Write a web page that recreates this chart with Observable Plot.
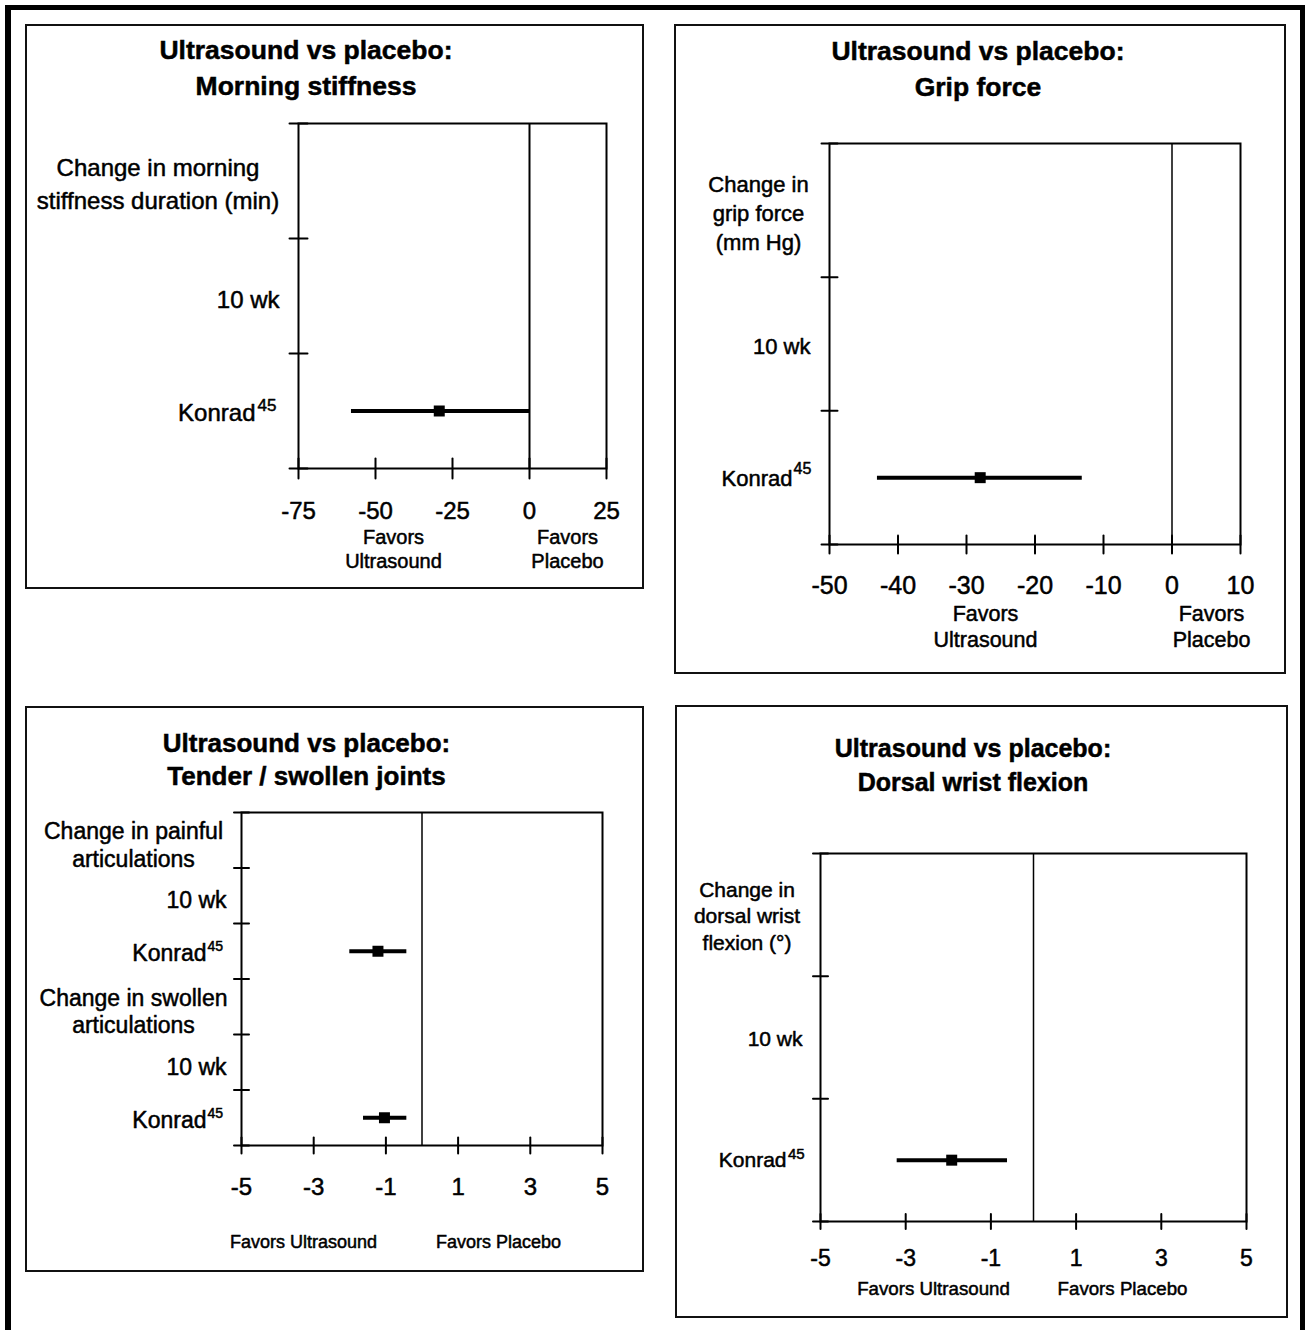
<!DOCTYPE html>
<html>
<head>
<meta charset="utf-8">
<script src="https://cdn.jsdelivr.net/npm/d3@7"></script>
<script src="https://cdn.jsdelivr.net/npm/@observablehq/plot@0.6"></script>
<style>
  html, body { margin: 0; padding: 0; background: #fff; }
  #page { position: relative; width: 1305px; height: 1330px; overflow: hidden; background: #fff;
          font-family: "Liberation Sans", Arial, Helvetica, sans-serif; color: #000; }
  .outer { position: absolute; left: 5px; top: 5px; width: 1300px; height: 1400px; box-sizing: border-box;
           border: 5px solid #000; border-left-width: 6px; }
  .box { position: absolute; box-sizing: border-box; border: 2px solid #111; }
  .tline { position: absolute; white-space: nowrap; font-weight: bold; transform: translateX(-50%);
           -webkit-text-stroke: 0.5px #000; }
  svg { position: absolute; }
</style>
</head>
<body>
<div id="page"><div class="outer"></div></div>
<script>
// ---------------- data ----------------
const titles = [
  ["Ultrasound vs placebo:", "Morning stiffness"],
  ["Ultrasound vs placebo:", "Grip force"],
  ["Ultrasound vs placebo:", "Tender / swollen joints"],
  ["Ultrasound vs placebo:", "Dorsal wrist flexion"]
];

const stiffnessRows = [
  {kind: "outcome", label: "Change in morning\nstiffness duration (min)"},
  {kind: "time", label: "10 wk"},
  {kind: "study", label: "Konrad", ref: "45"}
];
const stiffnessTicks = [-75, -50, -25, 0, 25];
const stiffnessEffects = [{row: 2, mean: -29.3, lower: -57.8, upper: 0}];
const stiffnessFavors = ["Favors\nUltrasound", "Favors\nPlacebo"];

const gripRows = [
  {kind: "outcome", label: "Change in\ngrip force\n(mm Hg)"},
  {kind: "time", label: "10 wk"},
  {kind: "study", label: "Konrad", ref: "45"}
];
const gripTicks = [-50, -40, -30, -20, -10, 0, 10];
const gripEffects = [{row: 2, mean: -28.0, lower: -43.0, upper: -13.1}];
const gripFavors = ["Favors\nUltrasound", "Favors\nPlacebo"];

const jointRows = [
  {kind: "outcome", label: "Change in painful\narticulations"},
  {kind: "time", label: "10 wk"},
  {kind: "study", label: "Konrad", ref: "45"},
  {kind: "outcome", label: "Change in swollen\narticulations"},
  {kind: "time", label: "10 wk"},
  {kind: "study", label: "Konrad", ref: "45"}
];
const jointTicks = [-5, -3, -1, 1, 3, 5];
const jointEffects = [
  {row: 2, mean: -1.22, lower: -2.0, upper: -0.42},
  {row: 5, mean: -1.04, lower: -1.62, upper: -0.42}
];
const jointFavors = ["Favors Ultrasound", "Favors Placebo"];

const flexionRows = [
  {kind: "outcome", label: "Change in\ndorsal wrist\nflexion (°)"},
  {kind: "time", label: "10 wk"},
  {kind: "study", label: "Konrad", ref: "45"}
];
const flexionTicks = [-5, -3, -1, 1, 3, 5];
const flexionEffects = [{row: 2, mean: -1.92, lower: -3.2, upper: -0.61}];
const flexionFavors = ["Favors Ultrasound", "Favors Placebo"];

// ---------------- layout ----------------
const layouts = [
  {box: {x0: 25, y0: 24, x1: 644, y1: 589}, frame: {l: 298, r: 606, t: 123, b: 468},
   titleX: 306, titleBase: [59, 95], titleFs: 26.5,
   rowFs: 24, outcomeDx: -140.5, outcomeDy: 1, outcomeLh: 1.375,
   timeDx: -19, timeDy: 4, studyDx: -43, studyDy: 2.5, supDx: -41, supDy: -8, supFs: 17,
   tickFs: 24, tickDy: 43, xTick: 20, yTick: 18, zeroW: 2,
   favFs: 20, favDy: 80, favLh: 1.2, favDx: [95, 269]},
  {box: {x0: 674, y0: 24, x1: 1286, y1: 674}, frame: {l: 829, r: 1240, t: 143, b: 544},
   titleX: 978, titleBase: [60, 96], titleFs: 26.5,
   rowFs: 22, outcomeDx: -71, outcomeDy: 1, outcomeLh: 1.32,
   timeDx: -19, timeDy: 2.5, studyDx: -37, studyDy: 1.5, supDx: -36, supDy: -10, supFs: 16,
   tickFs: 25, tickDy: 41, xTick: 18, yTick: 16, zeroW: 1.5,
   favFs: 21.5, favDy: 81, favLh: 1.21, favDx: [156, 382]},
  {box: {x0: 25, y0: 706, x1: 644, y1: 1272}, frame: {l: 241, r: 602, t: 812, b: 1145},
   titleX: 306.5, titleBase: [752, 785], titleFs: 26,
   rowFs: 23, outcomeDx: -108, outcomeDy: 4, outcomeLh: 1.2,
   timeDx: -15, timeDy: 5, studyDx: -35, studyDy: 2.5, supDx: -34, supDy: -7, supFs: 14,
   tickFs: 24, tickDy: 42, xTick: 16, yTick: 15, zeroW: 1.5,
   favFs: 18, favDy: 96, favLh: 1.2, favDx: [62, 257]},
  {box: {x0: 675, y0: 705, x1: 1288, y1: 1318}, frame: {l: 820, r: 1246, t: 853, b: 1221},
   titleX: 973, titleBase: [757, 791], titleFs: 25,
   rowFs: 21, outcomeDx: -73.5, outcomeDy: 0, outcomeLh: 1.26,
   timeDx: -18, timeDy: 2, studyDx: -34, studyDy: 0.5, supDx: -32.5, supDy: -6, supFs: 15,
   tickFs: 23, tickDy: 37, xTick: 15, yTick: 15, zeroW: 1.5,
   favFs: 18.7, favDy: 66, favLh: 1.2, favDx: [113, 302]}
];

const panels = [
  {rows: stiffnessRows, ticks: stiffnessTicks, effects: stiffnessEffects, favors: stiffnessFavors},
  {rows: gripRows, ticks: gripTicks, effects: gripEffects, favors: gripFavors},
  {rows: jointRows, ticks: jointTicks, effects: jointEffects, favors: jointFavors},
  {rows: flexionRows, ticks: flexionTicks, effects: flexionEffects, favors: flexionFavors}
];

// ---------------- drawing ----------------
const page = document.getElementById("page");
const tickLine = {draw(context, l) { context.moveTo(0, 0); context.lineTo(0, -l); }};
const FONT = "Liberation Sans, Arial, Helvetica, sans-serif";
const ink = {fill: "#000", stroke: "#000", strokeWidth: 0.5};

function drawPanel(p, L, title) {
  const n = p.rows.length;
  const rowsI = p.rows.map((d, i) => ({...d, yc: i + 0.5}));
  const bounds = d3.range(n + 1);
  const svgTop = L.frame.t - 20;
  const width = L.box.x1 - L.box.x0;
  const height = L.box.y1 - svgTop;

  const plot = Plot.plot({
    width, height,
    marginLeft: L.frame.l - L.box.x0,
    marginRight: L.box.x1 - L.frame.r,
    marginTop: 20,
    marginBottom: L.box.y1 - L.frame.b,
    style: {background: "transparent", fontFamily: FONT, color: "#000"},
    x: {domain: d3.extent(p.ticks), axis: null},
    y: {domain: [0, n], reverse: true, axis: null},
    marks: [
      Plot.frame({stroke: "#000", strokeWidth: 2}),
      Plot.ruleX([0], {stroke: "#000", strokeWidth: L.zeroW}),
      Plot.vector(bounds, {y: d => d, frameAnchor: "left", rotate: 90, length: L.yTick, anchor: "middle",
        shape: tickLine, stroke: "#000", strokeWidth: 2}),
      Plot.vector(p.ticks, {x: d => d, frameAnchor: "bottom", length: L.xTick, anchor: "middle",
        shape: tickLine, stroke: "#000", strokeWidth: 2}),
      Plot.text(p.ticks, {x: d => d, frameAnchor: "bottom", dy: L.tickDy, lineAnchor: "middle",
        textAnchor: "middle", text: d => String(d), fontSize: L.tickFs, ...ink}),
      Plot.ruleY(p.effects, {y: d => d.row + 0.5, x1: "lower", x2: "upper", stroke: "#000", strokeWidth: 4}),
      Plot.dot(p.effects, {x: "mean", y: d => d.row + 0.5, symbol: "square", r: 6.2, fill: "#000", stroke: "none"}),
      Plot.text(rowsI.filter(d => d.kind === "outcome"), {y: "yc", text: "label", frameAnchor: "left",
        textAnchor: "middle", lineAnchor: "middle", dx: L.outcomeDx, dy: L.outcomeDy,
        lineHeight: L.outcomeLh, fontSize: L.rowFs, ...ink}),
      Plot.text(rowsI.filter(d => d.kind === "time"), {y: "yc", text: "label", frameAnchor: "left",
        textAnchor: "end", lineAnchor: "middle", dx: L.timeDx, dy: L.timeDy, fontSize: L.rowFs, ...ink}),
      Plot.text(rowsI.filter(d => d.kind === "study"), {y: "yc", text: "label", frameAnchor: "left",
        textAnchor: "end", lineAnchor: "middle", dx: L.studyDx, dy: L.studyDy, fontSize: L.rowFs, ...ink}),
      Plot.text(rowsI.filter(d => d.kind === "study"), {y: "yc", text: "ref", frameAnchor: "left",
        textAnchor: "start", lineAnchor: "middle", dx: L.supDx, dy: L.studyDy + L.supDy, fontSize: L.supFs, ...ink}),
      Plot.text([p.favors[0]], {frameAnchor: "bottom-left", dx: L.favDx[0], dy: L.favDy, text: d => d,
        textAnchor: "middle", lineAnchor: "middle", lineHeight: L.favLh, fontSize: L.favFs, ...ink}),
      Plot.text([p.favors[1]], {frameAnchor: "bottom-left", dx: L.favDx[1], dy: L.favDy, text: d => d,
        textAnchor: "middle", lineAnchor: "middle", lineHeight: L.favLh, fontSize: L.favFs, ...ink})
    ]
  });
  plot.style.left = L.box.x0 + "px";
  plot.style.top = svgTop + "px";
  page.appendChild(plot);

  const box = document.createElement("div");
  box.className = "box";
  Object.assign(box.style, {left: L.box.x0 + "px", top: L.box.y0 + "px",
    width: (L.box.x1 - L.box.x0) + "px", height: (L.box.y1 - L.box.y0) + "px"});
  page.appendChild(box);

  title.forEach((t, i) => {
    const d = document.createElement("div");
    d.className = "tline";
    d.textContent = t;
    Object.assign(d.style, {left: L.titleX + "px", fontSize: L.titleFs + "px", lineHeight: L.titleFs + "px",
      top: (L.titleBase[i] - 0.8465 * L.titleFs) + "px"});
    page.appendChild(d);
  });
}

panels.forEach((p, i) => drawPanel(p, layouts[i], titles[i]));
</script>
</body>
</html>
